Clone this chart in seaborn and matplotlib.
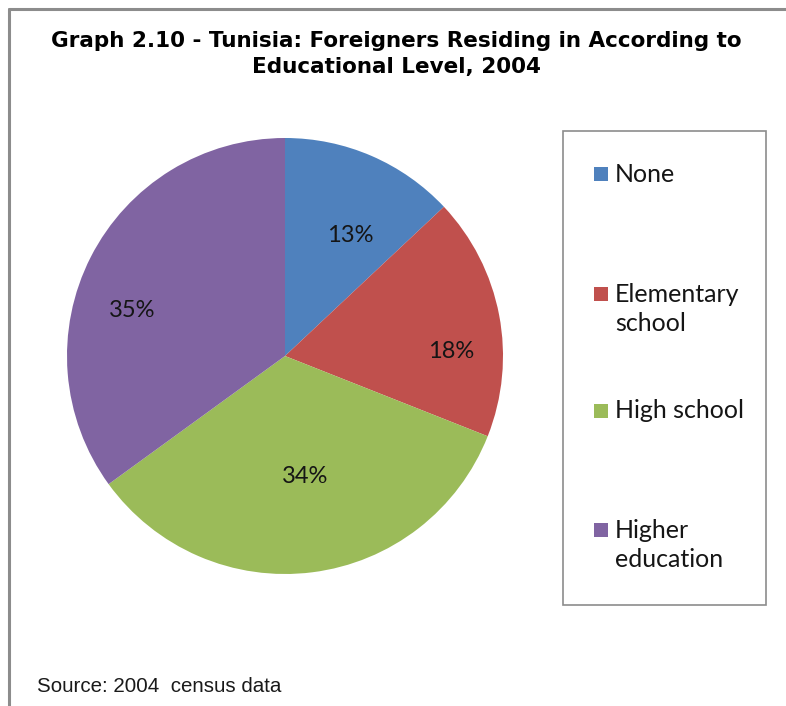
import matplotlib
matplotlib.use("Agg")
import matplotlib.pyplot as plt
from matplotlib.patches import Rectangle
from matplotlib.lines import Line2D
import seaborn as sns

# Educational level of foreigners residing in Tunisia, 2004 census (shares in %)
categories = ["None", "Elementary\nschool", "High school", "Higher\neducation"]
shares = [13, 18, 34, 35]
colors = ["#4F81BD", "#C0504D", "#9BBB59", "#8064A2"]

title_text = "Graph 2.10 - Tunisia: Foreigners Residing in According to\nEducational Level, 2004"
source_text = "Source: 2004  census data"

sns.set_theme(style="white")
plt.rcParams["font.family"] = ["Lato", "DejaVu Sans"]

W, H = 786, 706
fig = plt.figure(figsize=(W / 100, H / 100), dpi=100)
fig.patch.set_facecolor("white")

# pie axes: centre (285, 356) px, radius 218 px
cx, cy, r = 285, 356, 218
ax = fig.add_axes([(cx - r) / W, (H - cy - r) / H, 2 * r / W, 2 * r / H])
wedges, _, autotexts = ax.pie(
    shares,
    colors=colors,
    startangle=90,
    counterclock=False,
    autopct=lambda p: f"{p:.0f}%",
    pctdistance=0.65,
    wedgeprops=dict(linewidth=0),
    textprops=dict(fontsize=17, color="#151515"),
)
ax.set_xlim(-1, 1)
ax.set_ylim(-1, 1)
ax.set_aspect("equal")
ax.axis("off")

# percentage labels placed inside their wedges (axes units of radius)
label_pos = [(0.30, 0.555), (0.76, 0.02), (0.09, -0.555), (-0.70, 0.21)]
for t, (lx, ly) in zip(autotexts, label_pos):
    t.set_position((lx, ly))

# outer chart frame (left and top edges)
fig.add_artist(Line2D([8.5 / W, 8.5 / W], [0, 1 - 8.5 / H], transform=fig.transFigure,
                      color="#8c8c8c", lw=2.2))
fig.add_artist(Line2D([8.5 / W, 1], [1 - 8.5 / H, 1 - 8.5 / H], transform=fig.transFigure,
                      color="#8c8c8c", lw=2.2))

# title
fig.text(396 / W, 1 - 54 / H, title_text, ha="center", va="center",
         fontsize=15.5, fontweight="bold", linespacing=1.42,
         family=["DejaVu Sans"], color="black")

# source note
fig.text(37 / W, 1 - 687 / H, source_text, ha="left", va="center", fontsize=14.8,
         family=["Liberation Sans", "DejaVu Sans"], color="#1a1a1a")

# legend box
lx0, ly0, lx1, ly1 = 563, 131, 766, 605
fig.add_artist(Rectangle((lx0 / W, 1 - ly1 / H), (lx1 - lx0) / W, (ly1 - ly0) / H,
                         transform=fig.transFigure, facecolor="white",
                         edgecolor="#8c8c8c", lw=1.2))
entry_y = [174, 309, 411, 545]
for cat, col, yy in zip(categories, colors, entry_y):
    nlines = cat.count("\n") + 1
    sq_y = yy - (nlines - 1) * 15.5
    fig.add_artist(Rectangle((594 / W, 1 - (sq_y + 7) / H), 14 / W, 14 / H,
                             transform=fig.transFigure, facecolor=col, edgecolor="none"))
    fig.text(615 / W, 1 - yy / H, cat, ha="left", va="center", fontsize=18,
             linespacing=1.3, color="#151515")

fig.savefig("out.png", dpi=100, facecolor="white")
